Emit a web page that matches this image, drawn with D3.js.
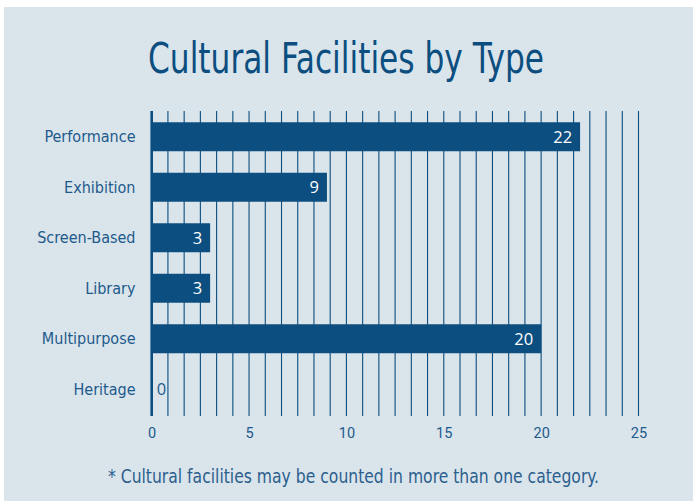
<!DOCTYPE html>
<html>
<head>
<meta charset="utf-8">
<script src="https://cdn.jsdelivr.net/npm/d3@7"></script>
<style>
  html, body { margin: 0; padding: 0; background: #ffffff; }
  svg { display: block; }
</style>
</head>
<body>
<div id="chart"></div>
<script>
const categories = ["Performance", "Exhibition", "Screen-Based", "Library", "Multipurpose", "Heritage"];
const values = [22, 9, 3, 3, 20, 0];
const tickValues = [0, 5, 10, 15, 20, 25];
const titleText = "Cultural Facilities by Type";
const footnoteText = "* Cultural facilities may be counted in more than one category.";

const W = 693, H = 501;
const navy = "#0b4e7f";
const textBlue = "#1d5a8b";
const bg = "#dae4eb";
const condensed = "'Liberation Sans Narrow', 'Arial Narrow', 'DejaVu Sans Condensed', sans-serif";

const svg = d3.select("#chart").append("svg")
  .attr("width", W).attr("height", H);

svg.append("rect").attr("x", 4).attr("y", 7).attr("width", W - 4).attr("height", H - 7).attr("fill", bg);

const x = d3.scaleLinear().domain([0, 25]).range([151.7, 638.5]);
const y = d3.scaleBand().domain(categories).range([111, 415]).paddingInner(0.426).paddingOuter(0.223);

// title
svg.append("text")
  .attr("x", 346).attr("y", 73)
  .attr("text-anchor", "middle")
  .attr("font-family", condensed)
  .attr("font-size", 43)
  .attr("fill", navy)
  .attr("textLength", 396).attr("lengthAdjust", "spacingAndGlyphs")
  .text(titleText);

// gridlines (every 5/6 unit)
const gridVals = d3.range(0, 31).map(i => i * 25 / 30);
svg.append("g").selectAll("line").data(gridVals).join("line")
  .attr("x1", d => x(d)).attr("x2", d => x(d))
  .attr("y1", 111).attr("y2", 416)
  .attr("stroke", navy).attr("stroke-width", 1.1);

// bars
svg.append("g").selectAll("rect").data(values).join("rect")
  .attr("x", x(0))
  .attr("y", (d, i) => y(categories[i]))
  .attr("width", d => x(d) - x(0))
  .attr("height", y.bandwidth())
  .attr("fill", navy);

// zero axis line
svg.append("line")
  .attr("x1", x(0)).attr("x2", x(0)).attr("y1", 111).attr("y2", 416)
  .attr("stroke", navy).attr("stroke-width", 2.6);

// value labels
svg.append("g").selectAll("text").data(values).join("text")
  .attr("x", d => d > 0 ? x(d) - 8 : x(0) + 5)
  .attr("y", (d, i) => y(categories[i]) + y.bandwidth() / 2 + 6)
  .attr("text-anchor", d => d > 0 ? "end" : "start")
  .attr("font-family", "'Open Sans', 'DejaVu Sans', sans-serif")
  .attr("font-size", 16.5)
  .attr("fill", d => d > 0 ? "#ffffff" : textBlue)
  .text(d => d);

// category labels
const yAxis = d3.axisLeft(y).tickSize(0).tickPadding(0);
const ya = svg.append("g").attr("transform", `translate(135.5,0)`).call(yAxis);
ya.select(".domain").remove();
ya.selectAll("text")
  .attr("font-family", condensed)
  .attr("font-size", 16)
  .attr("fill", textBlue)
  .attr("dy", "0.35em");

// x axis tick labels
const xAxis = d3.axisBottom(x).tickValues(tickValues).tickSize(0).tickPadding(0);
const xa = svg.append("g").attr("transform", `translate(0,427.5)`).call(xAxis);
xa.select(".domain").remove();
xa.selectAll("text")
  .attr("font-family", "'Roboto', 'Liberation Sans', sans-serif")
  .attr("font-size", 14.5)
  .attr("fill", textBlue);

// footnote
svg.append("text")
  .attr("x", 353.5).attr("y", 483)
  .attr("text-anchor", "middle")
  .attr("font-family", condensed)
  .attr("font-size", 19)
  .attr("fill", "#2b5f8e")
  .attr("textLength", 491).attr("lengthAdjust", "spacingAndGlyphs")
  .text(footnoteText);
</script>
</body>
</html>
